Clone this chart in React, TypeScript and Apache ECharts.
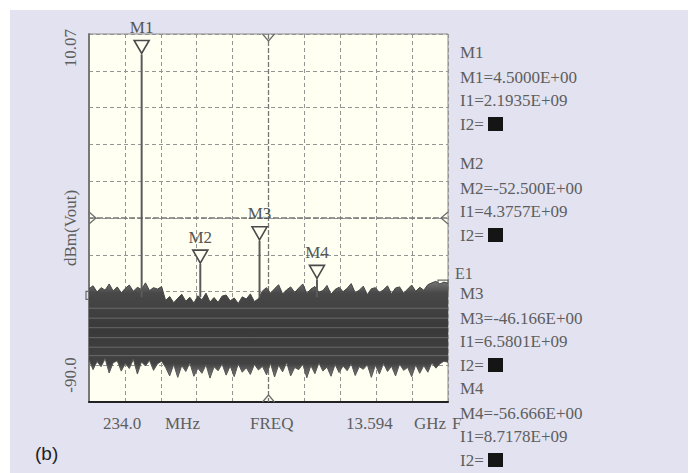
import React, { useEffect, useRef } from "react";
import * as echarts from "echarts";

const startGHz = 0.234;
const stopGHz = 13.594;
const refLevel = 10.07;
const bottomLevel = -90.0;
const noiseFloorDbm = -61.5;

const markerNames = ["M1", "M2", "M3", "M4"];
const markerFreqGHz = [2.1935, 4.3757, 6.5801, 8.7178];
const markerLevelDbm = [4.5, -52.5, -46.166, -56.666];
const markerLevelText = ["4.5000E+00", "-52.500E+00", "-46.166E+00", "-56.666E+00"];
const markerFreqText = ["2.1935E+09", "4.3757E+09", "6.5801E+09", "8.7178E+09"];

// noise envelope (dBm) across the sweep
const noiseTop = [
  -59.2, -58.4, -60.1, -58.9, -59.6, -57.9, -59.8, -58.7, -60.3, -59.1,
  -58.2, -59.9, -58.8, -59.4, -57.6, -59.7, -58.9, -59.3, -58.6,
  -62.4, -61.3, -63.0, -61.8, -60.7, -62.6, -61.5, -63.1, -61.1, -62.2,
  -60.4, -62.8, -61.6, -62.9, -61.2, -60.9, -62.5, -61.7, -63.2, -61.4,
  -62.0, -60.6, -62.7, -61.9,
  -59.8, -58.9, -60.4, -59.2, -58.1, -60.6, -59.5, -58.7, -60.2, -59.0,
  -57.9, -60.5, -59.3, -58.6, -60.1, -59.7, -58.3, -60.7, -59.4, -58.8,
  -60.0, -59.1, -57.8, -60.3, -59.6, -58.5, -60.8, -59.2, -58.9, -60.2,
  -59.5, -58.4, -60.6, -59.0, -58.7, -60.4, -59.3, -58.2, -59.9, -58.8,
  -59.6, -58.1, -57.6, -57.2, -57.9, -57.4, -57.7,
];
const noiseBottom = [
  -78.5, -81.2, -79.0, -80.4, -78.2, -82.1, -79.3, -78.8, -81.6, -79.5,
  -80.9, -78.4, -82.4, -79.1, -80.2, -78.7, -81.4, -79.6, -78.9,
  -80.6, -82.9, -79.8, -83.3, -80.1, -81.7, -79.4, -83.0, -80.8, -82.2,
  -79.9, -83.5, -80.4, -81.5, -79.7, -82.7, -80.2, -83.1, -79.6, -81.9,
  -80.7, -82.5, -79.8, -81.3,
  -80.3, -82.6, -79.5, -83.2, -80.0, -81.8, -79.3, -82.9, -80.6, -81.2,
  -79.7, -83.4, -80.1, -82.3, -79.4, -81.6, -80.5, -83.0, -79.8, -82.0,
  -80.2, -81.5, -79.6, -82.8, -80.4, -81.1, -79.9, -83.3, -80.0, -82.4,
  -79.5, -81.7, -80.3, -82.9, -79.7, -81.4, -80.6, -83.1, -79.9, -82.2,
  -80.1, -81.9, -79.4, -80.8, -79.6, -78.9, -79.2,
];
const streakLevels = [-64.5, -67.2, -69.8, -72.5, -75.1, -77.4];
const displayLineLeftDbm = -61.0;
const displayLineRightDbm = -58.5;

const yAxisTexts = ["10.07", "dBm(Vout)", "-90.0"];
const xAxisTexts = ["234.0", "MHz", "FREQ", "13.594", "GHz", "F"];

const SERIF = "'Liberation Serif', 'DejaVu Serif', serif";
const TXT = "#5e5e5e";

export default function App() {
  const ref = useRef<HTMLDivElement>(null);

  useEffect(() => {
    if (!ref.current) return;
    const chart = echarts.init(ref.current, undefined, { renderer: "svg" });

    const n = noiseTop.length;
    const sweep = (i: number) => startGHz + ((stopGHz - startGHz) * i) / (n - 1);
    const midF = (startGHz + stopGHz) / 2;
    const midL = (refLevel + bottomLevel) / 2;

    const textStyle = (extra: any) => ({
      fontFamily: SERIF,
      fontSize: 17,
      fill: TXT,
      ...extra,
    });

    const graphics: any[] = [];
    const yPos = [48, 228, 375];
    yAxisTexts.forEach((t, i) => {
      graphics.push({
        type: "text",
        x: 70,
        y: yPos[i],
        rotation: Math.PI / 2,
        style: textStyle({ text: t, align: "center", verticalAlign: "middle" }),
      });
    });
    const xPos = [103, 165, 250, 346, 414, 452];
    xAxisTexts.forEach((t, i) => {
      graphics.push({
        type: "text",
        x: xPos[i],
        y: 423,
        style: textStyle({ text: t, align: "left", verticalAlign: "middle" }),
      });
    });
    const blockTops = [52, 163, 293, 388];
    const lineGaps = [0, 25, 48, 72];
    markerNames.forEach((m, i) => {
      const y0 = blockTops[i];
      const lines = [m, `${m}=${markerLevelText[i]}`, `I1=${markerFreqText[i]}`, "I2="];
      lines.forEach((t, k) => {
        graphics.push({
          type: "text",
          x: 460,
          y: y0 + lineGaps[k],
          style: textStyle({ text: t, align: "left", verticalAlign: "middle" }),
        });
      });
      graphics.push({
        type: "rect",
        shape: { x: 488, y: y0 + lineGaps[3] - 7, width: 15, height: 14 },
        style: { fill: "#151515" },
      });
    });
    graphics.push({
      type: "text",
      x: 455,
      y: 273,
      style: textStyle({ text: "E1", fontSize: 16, align: "left", verticalAlign: "middle" }),
    });
    graphics.push({
      type: "text",
      x: 35,
      y: 453,
      style: {
        text: "(b)",
        fontFamily: "'Liberation Sans', Arial, sans-serif",
        fontSize: 19,
        fill: "#222",
        align: "left",
        verticalAlign: "middle",
      },
    });

    const option: any = {
      animation: false,
      backgroundColor: "transparent",
      grid: {
        left: 89,
        top: 34,
        width: 359,
        height: 368,
        show: true,
        backgroundColor: "#fffff2",
        borderColor: "#8a8a8a",
        borderWidth: 1,
      },
      xAxis: [
        {
          type: "value",
          min: 0,
          max: 10,
          interval: 1,
          axisLabel: { show: false },
          axisTick: { show: false },
          axisLine: { show: true, lineStyle: { color: "#222", width: 2 } },
          splitLine: { show: true, lineStyle: { color: "#949494", type: [4, 3], width: 1 } },
        },
        { type: "value", min: startGHz, max: stopGHz, show: false, gridIndex: 0 },
      ],
      yAxis: [
        {
          type: "value",
          min: 0,
          max: 10,
          interval: 1,
          axisLabel: { show: false },
          axisTick: { show: false },
          axisLine: { show: true, lineStyle: { color: "#777", width: 2 } },
          splitLine: { show: true, lineStyle: { color: "#949494", type: [4, 3], width: 1 } },
        },
        { type: "value", min: bottomLevel, max: refLevel, show: false, gridIndex: 0 },
      ],
      graphic: graphics,
      series: [
        {
          type: "custom",
          xAxisIndex: 1,
          yAxisIndex: 1,
          z: 1,
          silent: true,
          data: [[midF, midL]],
          renderItem: (_p: any, api: any) => {
            const top = api.coord([midF, refLevel]);
            const bot = api.coord([midF, bottomLevel]);
            const left = api.coord([startGHz, midL]);
            const right = api.coord([stopGHz, midL]);
            const dl = api.coord([startGHz, displayLineLeftDbm]);
            const dr = api.coord([stopGHz, displayLineRightDbm]);
            const st = { stroke: "#6a6a6a", lineWidth: 1.2, fill: "none" };
            return {
              type: "group",
              children: [
                { type: "line", shape: { x1: top[0], y1: top[1], x2: bot[0], y2: bot[1] }, style: { stroke: "#777", lineWidth: 1.3, lineDash: [5, 2] } },
                { type: "line", shape: { x1: left[0], y1: left[1], x2: right[0], y2: right[1] }, style: { stroke: "#777", lineWidth: 1.3, lineDash: [6, 2] } },
                { type: "polyline", shape: { points: [[top[0] - 6, top[1]], [top[0], top[1] + 7], [top[0] + 6, top[1]]] }, style: st },
                { type: "polyline", shape: { points: [[bot[0] - 6, bot[1]], [bot[0], bot[1] - 7], [bot[0] + 6, bot[1]]] }, style: st },
                { type: "polyline", shape: { points: [[left[0], left[1] - 6], [left[0] + 7, left[1]], [left[0], left[1] + 6]] }, style: st },
                { type: "polyline", shape: { points: [[right[0], right[1] - 6], [right[0] - 7, right[1]], [right[0], right[1] + 6]] }, style: st },
                { type: "rect", shape: { x: dl[0] - 3, y: dl[1] - 4, width: 6, height: 8 }, style: st },
                { type: "rect", shape: { x: dr[0] - 10, y: dr[1] - 6, width: 10, height: 12 }, style: st },
              ],
            };
          },
        },
        {
          type: "custom",
          xAxisIndex: 1,
          yAxisIndex: 1,
          z: 3,
          silent: true,
          data: [[startGHz, noiseFloorDbm]],
          renderItem: (_p: any, api: any) => {
            const topPts: number[][] = [];
            const botPts: number[][] = [];
            for (let i = 0; i < n; i++) {
              topPts.push(api.coord([sweep(i), noiseTop[i]]));
              botPts.push(api.coord([sweep(i), noiseBottom[i]]));
            }
            const poly = topPts.concat(botPts.slice().reverse());
            const children: any[] = [
              {
                type: "polygon",
                shape: { points: poly },
                style: {
                  fill: new echarts.graphic.LinearGradient(0, 0, 0, 1, [
                    { offset: 0, color: "#777777" },
                    { offset: 0.12, color: "#484848" },
                    { offset: 0.5, color: "#393939" },
                    { offset: 0.85, color: "#424242" },
                    { offset: 1, color: "#808080" },
                  ]),
                },
              },
            ];
            streakLevels.forEach((lv) => {
              const a = api.coord([startGHz, lv]);
              const b = api.coord([stopGHz, lv]);
              children.push({
                type: "line",
                shape: { x1: a[0], y1: a[1], x2: b[0], y2: b[1] },
                style: { stroke: "rgba(160,160,160,0.45)", lineWidth: 1 },
              });
            });
            children.push({ type: "polyline", shape: { points: topPts }, style: { stroke: "#444", lineWidth: 1, fill: "none" } });
            children.push({ type: "polyline", shape: { points: botPts }, style: { stroke: "#555", lineWidth: 1, fill: "none" } });
            return { type: "group", children };
          },
        },
        {
          type: "custom",
          xAxisIndex: 1,
          yAxisIndex: 1,
          z: 4,
          silent: true,
          data: markerFreqGHz.map((f, i) => [f, markerLevelDbm[i], i]),
          renderItem: (_p: any, api: any) => {
            const f = api.value(0);
            const lv = api.value(1);
            const idx = api.value(2);
            const p = api.coord([f, lv]);
            const b = api.coord([f, noiseFloorDbm]);
            return {
              type: "group",
              children: [
                { type: "line", shape: { x1: p[0], y1: p[1], x2: b[0], y2: b[1] }, style: { stroke: "#5a5a5a", lineWidth: 2 } },
                {
                  type: "polygon",
                  shape: { points: [[p[0] - 7.5, p[1] - 14], [p[0] + 7.5, p[1] - 14], [p[0], p[1] - 1]] },
                  style: { fill: "#fffff2", stroke: "#4a4a4a", lineWidth: 1.6 },
                },
                {
                  type: "text",
                  x: p[0],
                  y: p[1] - 27,
                  style: { text: markerNames[idx], fontFamily: SERIF, fontSize: 17, fill: "#555", align: "center", verticalAlign: "middle" },
                },
              ],
            };
          },
        },
      ],
    };

    chart.setOption(option);
    return () => chart.dispose();
  }, []);

  return (
    <div style={{ position: "fixed", left: 0, top: 0, width: 693, height: 473, background: "#ffffff" }}>
      <div style={{ position: "absolute", left: 10, top: 10, width: 678, height: 463, background: "#e2e2f0" }} />
      <div ref={ref} style={{ position: "absolute", left: 0, top: 0, width: 693, height: 473 }} />
    </div>
  );
}
